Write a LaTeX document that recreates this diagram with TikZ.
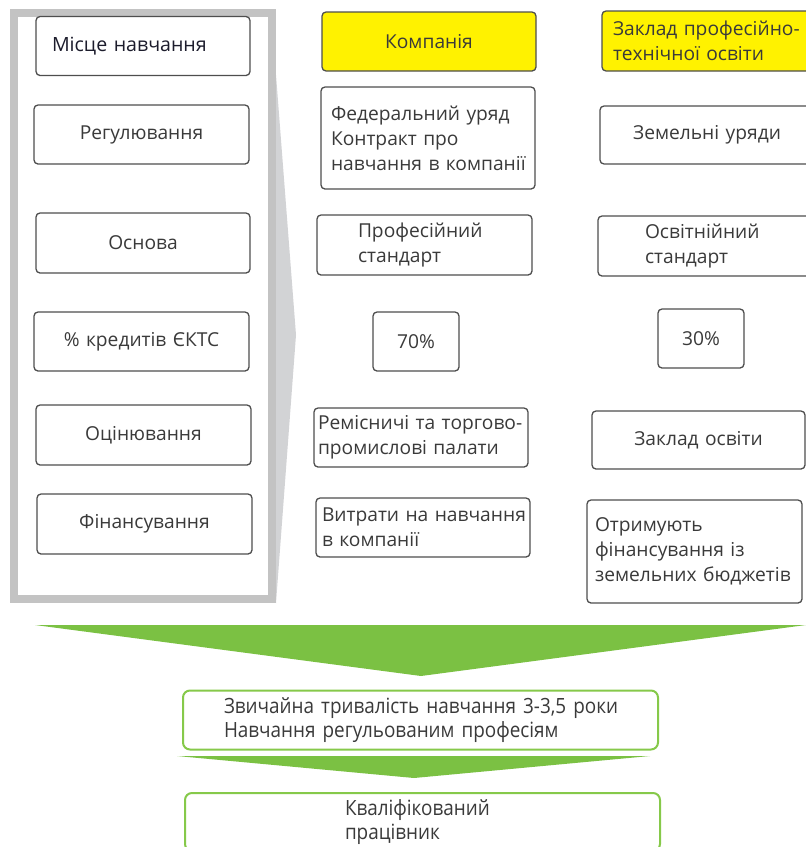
\documentclass[tikz,border=0pt]{standalone}
\usepackage{fontspec}
\setmainfont{Open Sans}
\newfontfamily\narrowface[FakeStretch=0.9]{Open Sans}
\newcommand\celltext{\fontsize{19.2}{25}\selectfont}
\newcommand\resulttext{\narrowface\fontsize{21}{24}\selectfont}

\definecolor{edgegray}{HTML}{4E4E4E}
\definecolor{inkgray}{HTML}{3A3A3A}
\definecolor{inkdark}{HTML}{1C1C2C}
\definecolor{panelgray}{HTML}{C3C3C3}
\definecolor{wedgegray}{HTML}{D2D3D5}
\definecolor{markyellow}{HTML}{FFF200}
\definecolor{leafgreen}{HTML}{7BC143}
\definecolor{rimgreen}{HTML}{86C94A}

\tikzset{
  cell/.style={draw=edgegray, line width=1.3pt, rounded corners=4pt, fill=white,
               inner ysep=0pt, text=inkgray, font=\celltext, minimum height=59pt},
  hl/.style={fill=markyellow},
  outcome/.style={draw=rimgreen, line width=2pt, rounded corners=7pt, fill=white,
                  inner ysep=0pt, text=inkgray, font=\resulttext,
                  minimum width=475pt, minimum height=59pt, align=left},
  flow/.style={fill=leafgreen},
}

\begin{document}
\begin{tikzpicture}[x=1pt, y=-1pt]
\useasboundingbox (0,0) rectangle (806,847);

% grey frame of the criteria column with its pointer wedge
\fill[wedgegray] (276,75) -- (296,335) -- (276,603) -- cycle;
\draw[panelgray, line width=8pt] (14,13) rectangle (272,599);

% criteria
\node[cell, minimum width=214pt, inner xsep=16pt, text width=182pt, align=left, text=inkdark, font=\fontsize{19.6}{25}\selectfont] (place) at (143,46) {Місце навчання};
\node[cell, minimum width=215pt, inner xsep=8pt, text width=199pt, align=center] (rules) at (141.5,134.5) {Регулювання};
\node[cell, minimum width=214pt, minimum height=60pt, inner xsep=8pt, text width=198pt, align=center] (basis) at (143,243) {Основа};
\node[cell, minimum width=215pt, inner xsep=8pt, text width=199pt, align=center] (credits) at (141.5,341.5) {\% кредитів ЄКТС};
\node[cell, minimum width=215pt, minimum height=60pt, inner xsep=8pt, text width=199pt, align=center] (assess) at (143.5,435) {Оцінювання};
\node[cell, minimum width=215pt, minimum height=60pt, inner xsep=8pt, text width=199pt, align=center] (funds) at (144.5,524) {Фінансування};

% company column
\node[cell, hl, minimum width=214pt, inner xsep=8pt, text width=198pt, align=center] (company) at (429,41.5) {Компанія};
\node[cell, minimum width=214pt, minimum height=102pt, inner xsep=10pt, text width=194pt, align=left] (federal) at (428,138) {\mbox{Федеральний уряд}\\\mbox{Контракт про}\\\mbox{навчання в компанії}};
\node[cell, minimum width=215pt, minimum height=60pt, inner xsep=41pt, text width=133pt, align=left] (profstd) at (424.5,245) {Професійний\\стандарт};
\node[cell, minimum width=86pt, inner xsep=6pt, text width=74pt, align=center] (share70) at (416,341.5) {70\%};
\node[cell, minimum width=214pt, inner xsep=4pt, text width=206pt, align=left] (chambers) at (421,437.5) {\mbox{Ремісничі та торгово-}\\\mbox{промислові палати}};
\node[cell, minimum width=214pt, inner xsep=6pt, text width=202pt, align=left] (costs) at (423,527.5) {\mbox{Витрати на навчання}\\\mbox{в компанії}};

% school column
\node[cell, hl, minimum width=214pt, minimum height=60pt, inner xsep=11pt, text width=192pt, align=left] (school) at (709,41) {\mbox{Заклад професійно-}\\\mbox{технічної освіти}};
\node[cell, minimum width=214pt, minimum height=58pt, inner xsep=8pt, text width=198pt, align=center] (states) at (707,135) {Земельні уряди};
\node[cell, minimum width=214pt, minimum height=60pt, inner xsep=47pt, text width=120pt, align=left] (edustd) at (705,246) {Освітнійний\\стандарт};
\node[cell, minimum width=86pt, inner xsep=6pt, text width=74pt, align=center] (share30) at (701,338.5) {30\%};
\node[cell, minimum width=213pt, minimum height=58pt, inner xsep=8pt, text width=197pt, align=center] (eduinst) at (698.5,440) {Заклад освіти};
\node[cell, minimum width=215pt, minimum height=103pt, inner xsep=8pt, text width=199pt, align=left] (budget) at (694.5,551.5) {\mbox{Отримують}\\\mbox{фінансування із}\\\mbox{земельних бюджетів}};

% outcome funnel
\fill[flow] (35,625) -- (806,625) -- (421,676) -- cycle;
\node[outcome, inner xsep=41pt, text width=393pt] (duration) at (420.5,720) {\mbox{Звичайна тривалість навчання 3-3,5 роки}\\\mbox{Навчання регульованим професіям}};
\fill[flow] (177,756) -- (650,756) -- (414,778) -- cycle;
\node[outcome, minimum height=58pt, inner xsep=160pt, text width=155pt] (worker) at (422.5,822) {\mbox{Кваліфікований}\\\mbox{працівник}};
\end{tikzpicture}
\end{document}
